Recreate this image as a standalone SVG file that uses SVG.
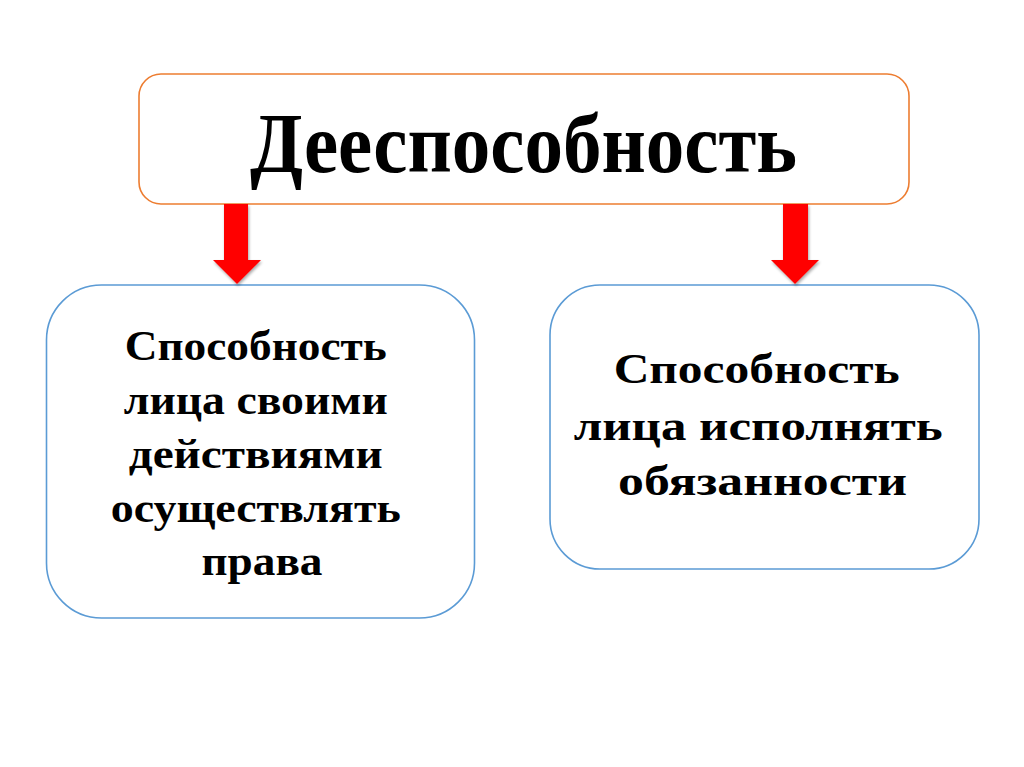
<svg xmlns="http://www.w3.org/2000/svg" width="1024" height="767" viewBox="0 0 1024 767">
<defs>
<style>
.box{fill:#fff;stroke-width:1.6}
.top{stroke:#ED7D31}
.sub{stroke:#5B9BD5}
text{font-family:"Liberation Serif","Times New Roman",serif;font-weight:bold;fill:#000;text-anchor:middle}
.arrow{fill:#FF0000}
</style>
<filter id="sh" x="-30%" y="-30%" width="160%" height="160%">
<feGaussianBlur in="SourceAlpha" stdDeviation="1.5"/>
<feOffset dx="1" dy="2" result="b"/>
<feComponentTransfer><feFuncA type="linear" slope="0.35"/></feComponentTransfer>
<feMerge><feMergeNode/><feMergeNode in="SourceGraphic"/></feMerge>
</filter>
</defs>
<rect x="0" y="0" width="1024" height="767" fill="#fff"/>
<g id="node-top">
<rect class="box top" x="139" y="74" width="770" height="130" rx="22" ry="22"/>
<text x="523.5" y="172" font-size="84" textLength="547" lengthAdjust="spacingAndGlyphs">Дееспособность</text>
</g>
<g id="node-left">
<rect class="box sub" x="46.5" y="285" width="428" height="333" rx="55" ry="55"/>
<text font-size="42">
<tspan x="261" y="360" textLength="262" lengthAdjust="spacingAndGlyphs">Способность</tspan>
<tspan x="261" y="414" textLength="264" lengthAdjust="spacingAndGlyphs">лица своими</tspan>
<tspan x="261" y="468" textLength="254" lengthAdjust="spacingAndGlyphs">действиями</tspan>
<tspan x="261" y="522" textLength="290" lengthAdjust="spacingAndGlyphs">осуществлять</tspan>
<tspan x="262" y="575" textLength="121" lengthAdjust="spacingAndGlyphs">права</tspan>
</text>
</g>
<g id="node-right">
<rect class="box sub" x="550" y="285" width="429" height="284" rx="50" ry="50"/>
<text font-size="43">
<tspan x="762" y="383" textLength="286" lengthAdjust="spacingAndGlyphs">Способность</tspan>
<tspan x="763.5" y="440" textLength="369" lengthAdjust="spacingAndGlyphs">лица исполнять</tspan>
<tspan x="762.5" y="495" textLength="289" lengthAdjust="spacingAndGlyphs">обязанности</tspan>
</text>
</g>
<g id="connectors" filter="url(#sh)">
<polygon class="arrow" points="224,204 248,204 248,260 261,260 237,284 213,260 224,260"/>
<polygon class="arrow" points="783,204 808,204 808,260 819,260 795,284 771,260 783,260"/>
</g>
</svg>
